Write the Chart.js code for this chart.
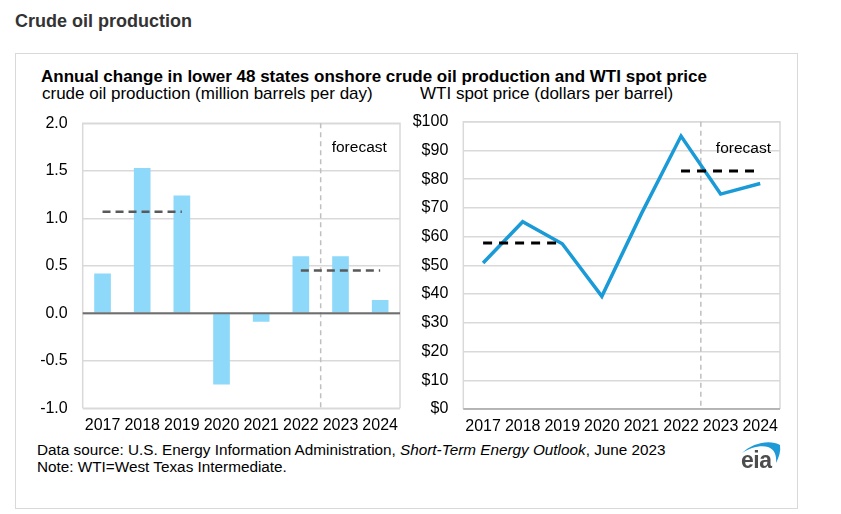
<!DOCTYPE html>
<html>
<head>
<meta charset="utf-8">
<script src="https://cdn.jsdelivr.net/npm/chart.js@4.4.0/dist/chart.umd.min.js"></script>
<style>
  body { margin: 0; background: #fff; font-family: "Liberation Sans", Arial, sans-serif; color: #000;
         width: 841px; height: 514px; position: relative; overflow: hidden; }
  .t { position: absolute; white-space: nowrap; line-height: 1; }
  #page-title { left: 15px; top: 12px; font-size: 18px; font-weight: bold; color: #333; }
  #box { position: absolute; left: 15px; top: 53px; width: 781px; height: 454px; border: 1px solid #d9d9d9; }
  #chart-title { left: 41px; top: 68px; font-size: 17px; font-weight: bold; }
  #sub-left { left: 42px; top: 85px; font-size: 17px; }
  #sub-right { left: 420px; top: 85px; font-size: 17px; }
  #src { left: 37px; top: 442px; font-size: 15.3px; }
  #note { left: 37px; top: 459px; font-size: 15.3px; }
  #logo { position: absolute; left: 738px; top: 437px; width: 46px; height: 36px; }
  #logo span { position: absolute; left: 3px; top: 12px; font-size: 23px; font-weight: bold; color: #4d4d4d; line-height: 1; letter-spacing: -0.5px; }
  canvas { position: absolute; }
</style>
</head>
<body>
<div class="t" id="page-title">Crude oil production</div>
<div id="box"></div>
<div class="t" id="chart-title">Annual change in lower 48 states onshore crude oil production and WTI spot price</div>
<div class="t" id="sub-left">crude oil production (million barrels per day)</div>
<div class="t" id="sub-right">WTI spot price (dollars per barrel)</div>
<div style="position:absolute;left:30px;top:110px;width:380px;height:330px"><canvas id="prodChart"></canvas></div>
<div style="position:absolute;left:400px;top:110px;width:400px;height:330px"><canvas id="wtiChart"></canvas></div>
<div class="t" id="src">Data source: U.S. Energy Information Administration, <i>Short-Term Energy Outlook</i>, June 2023</div>
<div class="t" id="note">Note: WTI=West Texas Intermediate.</div>
<div id="logo">
  <svg width="46" height="36" style="position:absolute;left:0;top:0">
    <path d="M4 16 C 14 6, 32 2, 42 8 C 43 14, 41 20, 38 26 C 39 18, 36 12, 30 10 C 22 8, 12 11, 4 16 Z" fill="#1e9ad6"/>
  </svg>
  <span>eia</span>
</div>

<script>
// lower 48 onshore production change (million b/d) and WTI price ($/b)
const years = ['2017', '2018', '2019', '2020', '2021', '2022', '2023', '2024'];
const prodChange = [0.42, 1.53, 1.24, -0.75, -0.09, 0.60, 0.60, 0.14];
const prodAvg = [1.07, 1.07, 1.07, null, null, 0.45, 0.45, 0.45];
const wtiPrice = [50.8, 65.2, 57.5, 39.2, 68.0, 95.0, 74.8, 78.5];
const wtiAvg = [57.8, 57.8, 57.8, null, null, 82.8, 82.8, 82.8];
const prodTicks = { min: -1, max: 2, step: 0.5 };
const wtiTicks = { min: 0, max: 100, step: 10 };
const forecastAfter = 5; // index of last historical year (2022)

const tickFont = { family: '"Liberation Sans", Arial, sans-serif', size: 16 };

// plot frame, forecast divider and label
function framePlugin(opts) {
  return {
    id: 'frame',
    beforeDatasetsDraw(chart) {
      const { ctx, chartArea: a, scales } = chart;
      ctx.save();
      ctx.strokeStyle = '#d9d9d9';
      ctx.lineWidth = 1.5;
      ctx.beginPath();
      ctx.moveTo(a.left, a.bottom); ctx.lineTo(a.left, a.top);
      ctx.lineTo(a.right, a.top); ctx.lineTo(a.right, a.bottom);
      ctx.stroke();
      ctx.strokeStyle = opts.bottomColor;
      ctx.beginPath();
      ctx.moveTo(a.left, a.bottom); ctx.lineTo(a.right, a.bottom);
      ctx.stroke();

      const x = (scales.x.getPixelForValue(forecastAfter) + scales.x.getPixelForValue(forecastAfter + 1)) / 2;
      ctx.strokeStyle = '#bfbfbf';
      ctx.lineWidth = 1.5;
      ctx.setLineDash([5, 4]);
      ctx.beginPath();
      ctx.moveTo(x, a.top); ctx.lineTo(x, a.bottom);
      ctx.stroke();
      ctx.setLineDash([]);
      ctx.fillStyle = '#000';
      ctx.font = '15.5px "Liberation Sans", Arial, sans-serif';
      ctx.textBaseline = 'middle';
      ctx.fillText('forecast', x + opts.labelDx, a.top + opts.labelDy);
      ctx.restore();
    },
    afterDatasetsDraw(chart) {
      if (!opts.zeroLine) return;
      const { ctx, chartArea: a, scales } = chart;
      const y = scales.y.getPixelForValue(0);
      ctx.save();
      ctx.strokeStyle = '#6e6e6e';
      ctx.lineWidth = 2;
      ctx.beginPath();
      ctx.moveTo(a.left, y); ctx.lineTo(a.right, y);
      ctx.stroke();
      ctx.restore();
    }
  };
}

new Chart(document.getElementById('prodChart'), {
  type: 'bar',
  data: {
    labels: years,
    datasets: [
      { type: 'line', data: prodAvg, borderColor: '#595959', borderWidth: 2.5, borderDash: [8, 5],
        pointRadius: 0, fill: false, order: 0 },
      { type: 'bar', data: prodChange, backgroundColor: '#8ed8fa', barPercentage: 0.42,
        categoryPercentage: 1, order: 1 }
    ]
  },
  options: {
    responsive: true, maintainAspectRatio: false, animation: false,
    layout: { padding: { top: 13.3, right: 10, left: 0, bottom: 0 } },
    plugins: { legend: { display: false }, tooltip: { enabled: false } },
    scales: {
      x: {
        offset: true,
        grid: { display: false, drawTicks: false },
        border: { display: false },
        ticks: { font: tickFont, color: '#000', padding: 8, autoSkip: false, maxRotation: 0 },
        afterFit(s) { s.height = 31.7; }
      },
      y: {
        min: prodTicks.min, max: prodTicks.max,
        grid: { color: '#d9d9d9', lineWidth: 1.5, drawTicks: false },
        border: { display: false },
        ticks: { font: tickFont, color: '#000', padding: 15, stepSize: prodTicks.step,
                 callback: v => v.toFixed(1) },
        afterFit(s) { s.width = 52.7; s.paddingTop = 0; s.paddingBottom = 0; }
      }
    }
  },
  plugins: [framePlugin({ bottomColor: '#d9d9d9', labelDx: 11, labelDy: 24, zeroLine: true })]
});

new Chart(document.getElementById('wtiChart'), {
  type: 'line',
  data: {
    labels: years,
    datasets: [
      { data: wtiAvg, borderColor: '#000', borderWidth: 3, borderDash: [9, 7], pointRadius: 0, order: 0 },
      { data: wtiPrice, borderColor: '#1a9ad6', borderWidth: 3.5, pointRadius: 0, tension: 0, order: 1 }
    ]
  },
  options: {
    responsive: true, maintainAspectRatio: false, animation: false,
    layout: { padding: { top: 11.7, right: 20, left: 0, bottom: 0 } },
    plugins: { legend: { display: false }, tooltip: { enabled: false } },
    scales: {
      x: {
        offset: true,
        grid: { display: false, drawTicks: false },
        border: { display: false },
        ticks: { font: tickFont, color: '#000', padding: 8, autoSkip: false, maxRotation: 0 },
        afterFit(s) { s.height = 31; }
      },
      y: {
        min: wtiTicks.min, max: wtiTicks.max,
        grid: { color: '#d9d9d9', lineWidth: 1.5, drawTicks: false },
        border: { display: false },
        ticks: { font: tickFont, color: '#000', padding: 15, stepSize: wtiTicks.step,
                 callback: v => '$' + v },
        afterFit(s) { s.width = 63.3; s.paddingTop = 0; s.paddingBottom = 0; }
      }
    }
  },
  plugins: [framePlugin({ bottomColor: '#a6a6a6', labelDx: 15, labelDy: 27, zeroLine: false })]
});
</script>
</body>
</html>
